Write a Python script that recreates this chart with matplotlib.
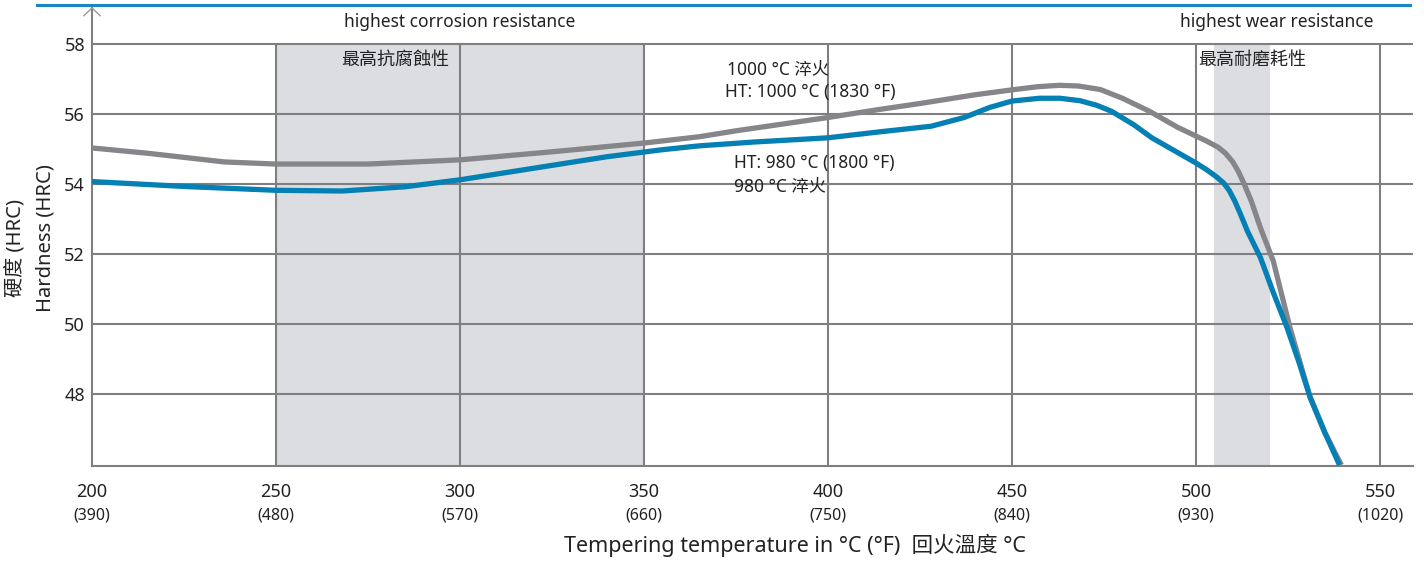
import matplotlib
matplotlib.use("Agg")
import matplotlib.pyplot as plt
from matplotlib.lines import Line2D

plt.rcParams['font.family'] = ['Noto Sans', 'Noto Sans CJK TC', 'DejaVu Sans']

# ---- data ----
temps_c = [200, 250, 300, 350, 400, 450, 500, 550]
temps_f = ["(390)", "(480)", "(570)", "(660)", "(750)", "(840)", "(930)", "(1020)"]
hrc_ticks = [48, 50, 52, 54, 56, 58]

gray_x = [200, 215, 236, 250, 275, 300, 325, 350, 365, 375, 400, 414, 425, 440, 450, 457, 463,
          468, 474, 480, 487.5, 495, 500, 503, 506, 508, 510, 511.5, 513, 515, 517.5, 521,
          525.5, 531, 535, 539.5]
gray_y = [55.03, 54.88, 54.63, 54.57, 54.57, 54.69, 54.92, 55.17, 55.35, 55.52, 55.90, 56.13,
          56.30, 56.55, 56.69, 56.78, 56.82, 56.80, 56.70, 56.45, 56.07, 55.62, 55.37, 55.22,
          55.05, 54.88, 54.63, 54.36, 54.02, 53.52, 52.75, 51.80, 49.91, 47.91, 46.90, 45.97]

blue_x = [200, 225, 250, 268, 285, 300, 320, 340, 355, 365, 380, 400, 414, 428, 437, 444,
          450, 457.5, 463, 468.5, 473, 477, 483, 488, 495, 500, 503, 505.5, 507.5, 509, 510.5,
          512, 514, 517.5, 521, 524.7, 528, 531, 535, 539]
blue_y = [54.07, 53.93, 53.82, 53.80, 53.92, 54.12, 54.45, 54.78, 54.98, 55.09, 55.20, 55.32,
          55.49, 55.65, 55.90, 56.19, 56.37, 56.45, 56.45, 56.38, 56.25, 56.08, 55.70, 55.32,
          54.90, 54.60, 54.40, 54.21, 54.03, 53.82, 53.52, 53.16, 52.65, 51.90, 50.90, 49.91,
          48.90, 47.91, 46.90, 45.97]

corrosion_zone = (250, 350)
wear_zone = (505, 520)

# ---- figure ----
W, H = 1424, 562
fig = plt.figure(figsize=(W / 100, H / 100), dpi=100)
ax = fig.add_axes([92 / W, 1 - 466 / H, (1413 - 92) / W, (466 - 8) / H])

ymin = 58 - (466 - 44) / 35.0
ymax = 58 + (44 - 8) / 35.0
ax.set_xlim(200, 200 + (1413 - 92) / 3.68)
ax.set_ylim(ymin, ymax)

grid_c = '#7f7f82'
shade_c = '#dcdde0'

ax.axvspan(*corrosion_zone, ymin=0, ymax=(58 - ymin) / (ymax - ymin), color=shade_c, lw=0, zorder=0)
ax.axvspan(*wear_zone, ymin=0, ymax=(58 - ymin) / (ymax - ymin), color=shade_c, lw=0, zorder=0)

for yv in hrc_ticks:
    ax.axhline(yv, color=grid_c, lw=1.5, zorder=1)
ax.vlines(temps_c[1:], ymin, 58, color=grid_c, lw=1.5, zorder=1)

ax.plot(gray_x, gray_y, color='#86868a', lw=3.8, solid_capstyle='butt', solid_joinstyle='round', zorder=3)
ax.plot(blue_x, blue_y, color='#0580b4', lw=3.8, solid_capstyle='butt', solid_joinstyle='round', zorder=4)

for s in ['top', 'right']:
    ax.spines[s].set_visible(False)
ax.spines['left'].set_color(grid_c)
ax.spines['left'].set_linewidth(1.5)
ax.spines['bottom'].set_color(grid_c)
ax.spines['bottom'].set_linewidth(1.5)

# arrow head on y axis (open chevron)
ax.plot([200 - 2.2, 200, 200 + 2.2], [ymax - 0.22, ymax, ymax - 0.22], color='#9a9a9c',
        lw=1.0, clip_on=False, zorder=5)

txt_c = '#222222'
ax.set_yticks(hrc_ticks)
ax.set_yticklabels([str(v) for v in hrc_ticks], fontsize=13, color=txt_c)
ax.tick_params(axis='y', length=0, pad=5)
ax.set_xticks(temps_c)
ax.set_xticklabels([str(v) for v in temps_c], fontsize=13, color=txt_c)
ax.tick_params(axis='x', length=0, pad=12)

xt = ax.get_xaxis_transform()
for c, f in zip(temps_c, temps_f):
    ax.text(c, -0.109, f, transform=xt, ha='center', va='center', fontsize=11.5, color=txt_c)

fig.text(795 / W, 1 - 545 / H, 'Tempering temperature in °C (°F)  回火溫度 °C',
         ha='center', va='center', fontsize=15.5, color=txt_c)

fig.text(15 / W, 1 - 248 / H, '硬度 (HRC)', rotation=90, ha='center', va='center', fontsize=14.5, color=txt_c)
fig.text(46 / W, 1 - 238 / H, 'Hardness (HRC)', rotation=90, ha='center', va='center', fontsize=14.5, color=txt_c)

# annotations
ax.text(300, 58.62, 'highest corrosion resistance', ha='center', va='center', fontsize=12.5, color=txt_c)
ax.text(297, 57.55, '最高抗腐蝕性', ha='right', va='center', fontsize=13, color=txt_c)
ax.text(522, 58.62, 'highest wear resistance', ha='center', va='center', fontsize=12.5, color=txt_c)
ax.text(500.5, 57.55, '最高耐磨耗性', ha='left', va='center', fontsize=13, color=txt_c)

ax.text(372.5, 57.25, '1000 °C 淬火', ha='left', va='center', fontsize=12.5, color=txt_c)
ax.text(372, 56.62, 'HT: 1000 °C (1830 °F)', ha='left', va='center', fontsize=12.5, color=txt_c)
ax.text(374.5, 54.6, 'HT: 980 °C (1800 °F)', ha='left', va='center', fontsize=12.5, color=txt_c)
ax.text(374.5, 53.92, '980 °C 淬火', ha='left', va='center', fontsize=12.5, color=txt_c)

# top decorative blue rule
fig.add_artist(Line2D([37 / W, 1410 / W], [1 - 5 / H, 1 - 5 / H], color='#1a87bf', lw=2.2))

fig.savefig('out.png', dpi=100)
